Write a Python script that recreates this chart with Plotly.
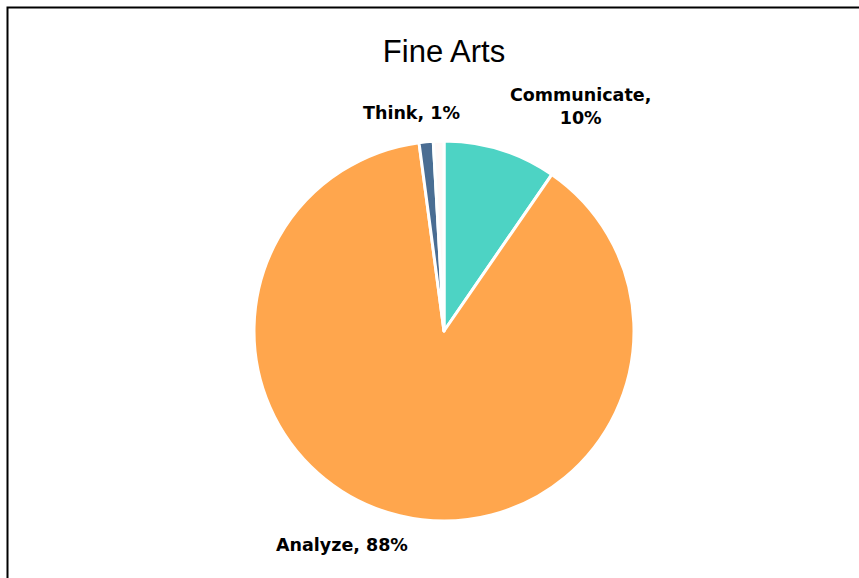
import plotly.graph_objects as go

W, H = 859, 578

labels = ["Communicate", "Analyze", "Think", "Other"]
values = [9.6, 88.3, 1.2, 0.9]
colors = ["#4DD3C4", "#FFA64D", "#4A6D93", "#FFF8F7"]
show_label = [True, True, True, False]
label_sep = [",<br>", ", ", ", ", ""]

cx, cy, r = 444, 331, 190
# label anchor positions in pixels (layout)
label_pos = [(580, 106), (342, 545), (411, 113), None]

total = sum(values)
annotations = []
for lab, v, s, sep, pos in zip(labels, values, show_label, label_sep, label_pos):
    if not s:
        continue
    pct = round(v / total * 100)
    annotations.append(dict(
        text=f"{lab}{sep}{pct}%", x=pos[0] / W, y=1 - pos[1] / H,
        xref="paper", yref="paper", xanchor="center", yanchor="middle",
        showarrow=False, align="center",
        font=dict(family="DejaVu Sans", size=17.5, color="#000000", weight="bold"),
    ))

fig = go.Figure(go.Pie(
    labels=labels,
    values=values,
    sort=False,
    direction="clockwise",
    rotation=0,
    marker=dict(colors=colors, line=dict(color="white", width=3)),
    textinfo="none",
    showlegend=False,
    hoverinfo="label+percent",
    domain=dict(x=[(cx - r) / W, (cx + r) / W], y=[1 - (cy + r) / H, 1 - (cy - r) / H]),
))

fig.update_layout(
    width=W, height=H,
    margin=dict(l=0, r=0, t=0, b=0),
    paper_bgcolor="white",
    title=dict(text="Fine Arts", x=444 / W, xanchor="center", y=1 - 51 / H, yanchor="middle",
               font=dict(family="Liberation Sans", size=31, color="#000000")),
    annotations=annotations,
    shapes=[dict(type="rect", xref="paper", yref="paper",
                 x0=7.5 / W, x1=(W + 10) / W, y0=-10 / H, y1=1 - 7.5 / H,
                 line=dict(color="#000000", width=2), fillcolor="rgba(0,0,0,0)")],
)

fig.write_html("out.html", config={"displayModeBar": False},
               post_script="document.body.style.margin='0';")
